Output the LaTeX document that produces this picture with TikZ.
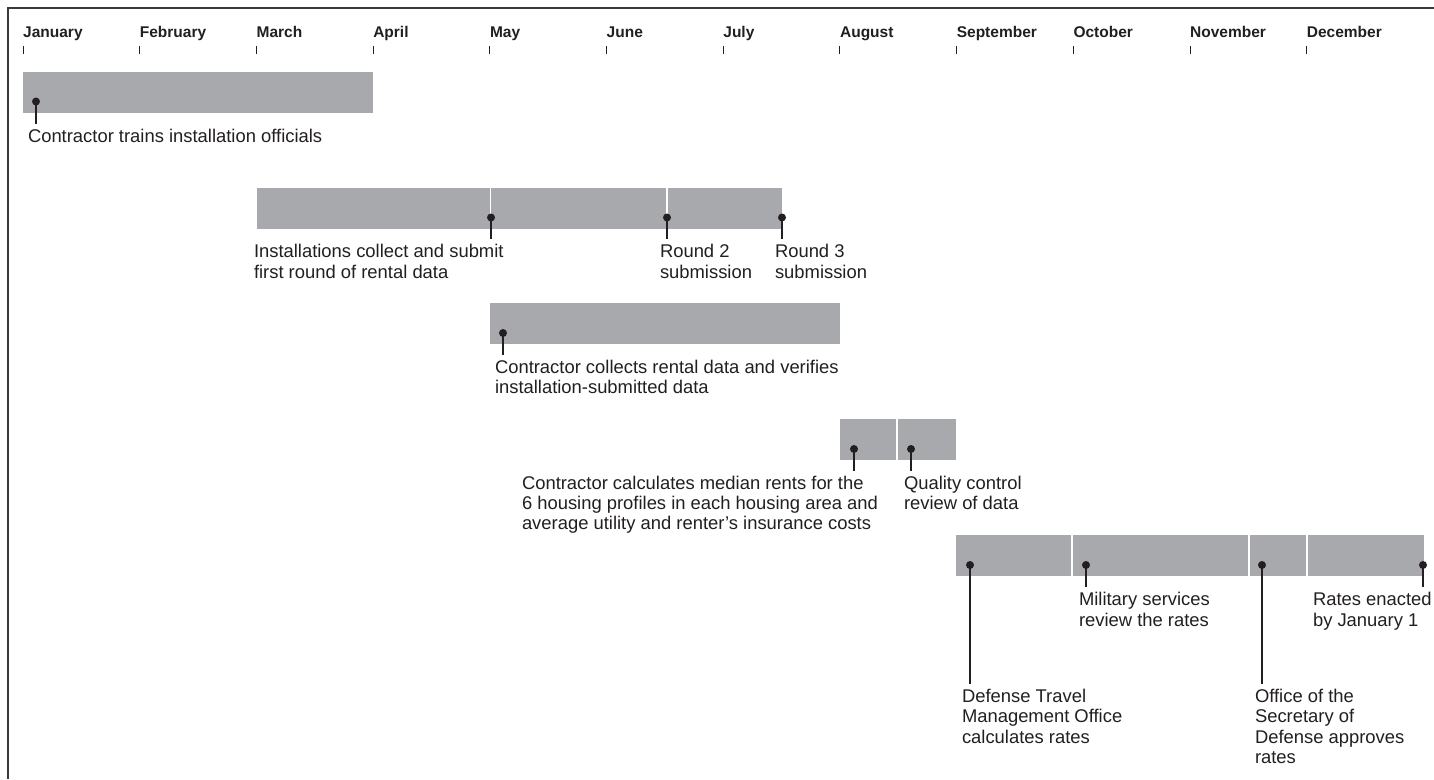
\documentclass[tikz,border=0pt]{standalone}
\usepackage{fontspec}
\setmainfont{Liberation Sans}
\definecolor{ink}{HTML}{231F20}
\definecolor{barcol}{HTML}{A7A9AC}
\definecolor{framecol}{HTML}{3A3A3A}
\begin{document}
\begin{tikzpicture}[x=1pt,y=-1pt,
  bar/.style={fill=barcol},
  sepline/.style={draw=white,line width=1.5pt},
  dot/.style={circle,fill=ink,inner sep=0pt,minimum size=8pt},
  lbl/.style={anchor=base west,align=left,inner sep=0pt,outer sep=0pt,text=ink,font=\fontsize{18.4}{20.3}\selectfont},
  mon/.style={anchor=base west,inner sep=0pt,text=ink,font=\fontsize{15.5}{18}\selectfont\bfseries},
  tick/.style={draw=ink,line width=1pt},
  conn/.style={draw=ink,line width=1.3pt},
  framel/.style={draw=framecol,line width=2pt}]
\useasboundingbox (0,0) rectangle (1434,779);
\fill[white] (0,0) rectangle (1434,779);
% frame
\draw[framel] (7.5,779) -- (7.5,8) -- (1434,8);
% months
\foreach \m [count=\i from 0] in {January,February,March,April,May,June,July,August,September,October,November,December}{
  \node[mon] (m\i) at ({23+116.7*\i},37) {\m};
  \draw[tick] ({23+116.7*\i},46) -- ++(0,8);
}
% bar 1
\fill[bar] (23,72) rectangle (373,112.5);
% bar 2
\fill[bar] (257,188) rectangle (782,228.5);
\draw[sepline] (490.5,188) -- (490.5,228.5);
\draw[sepline] (667,188) -- (667,228.5);
% bar 3
\fill[bar] (490,303) rectangle (840,344);
% bar 4
\fill[bar] (840,419) rectangle (956,460);
\draw[sepline] (897,419) -- (897,460);
% bar 5
\fill[bar] (956,535) rectangle (1424,576);
\draw[sepline] (1072,535) -- (1072,576);
\draw[sepline] (1249,535) -- (1249,576);
\draw[sepline] (1307,535) -- (1307,576);
% dots
\node[dot] (d1) at (36,101.5) {};
\node[dot] (d2) at (491,217.5) {};
\node[dot] (d3) at (667,217.5) {};
\node[dot] (d4) at (782,217.5) {};
\node[dot] (d5) at (503,333) {};
\node[dot] (d6) at (854,449) {};
\node[dot] (d7) at (911,449) {};
\node[dot] (d8) at (970,565) {};
\node[dot] (d9) at (1086,565) {};
\node[dot] (d10) at (1262,565) {};
\node[dot] (d11) at (1423,565) {};
% labels (anchored at the baseline of their last line)
\node[lbl] (l1) at (28,142) {Contractor trains installation officials};
\node[lbl] (l2) at (254,278) {Installations collect and submit\\first round of rental data};
\node[lbl] (l3) at (660,278) {Round 2\\submission};
\node[lbl] (l4) at (775,278) {Round 3\\submission};
\node[lbl] (l5) at (495,393.8) {Contractor collects rental data and verifies\\installation-submitted data};
\node[lbl] (l6) at (522,529.8) {Contractor calculates median rents for the\\6 housing profiles in each housing area and\\average utility and renter’s insurance costs};
\node[lbl] (l7) at (904,509.5) {Quality control\\review of data};
\node[lbl] (l8) at (962,743) {Defense Travel\\Management Office\\calculates rates};
\node[lbl] (l9) at (1079,626) {Military services\\review the rates};
\node[lbl] (l10) at (1255,763.3) {Office of the\\Secretary of\\Defense approves\\rates};
\node[lbl] (l11) at (1313,626) {Rates enacted\\by January 1};
% connectors
\foreach \k in {1,...,11}{
  \draw[conn] (d\k.center) -- ([yshift=5pt]d\k |- l\k.north);
}
\end{tikzpicture}
\end{document}
